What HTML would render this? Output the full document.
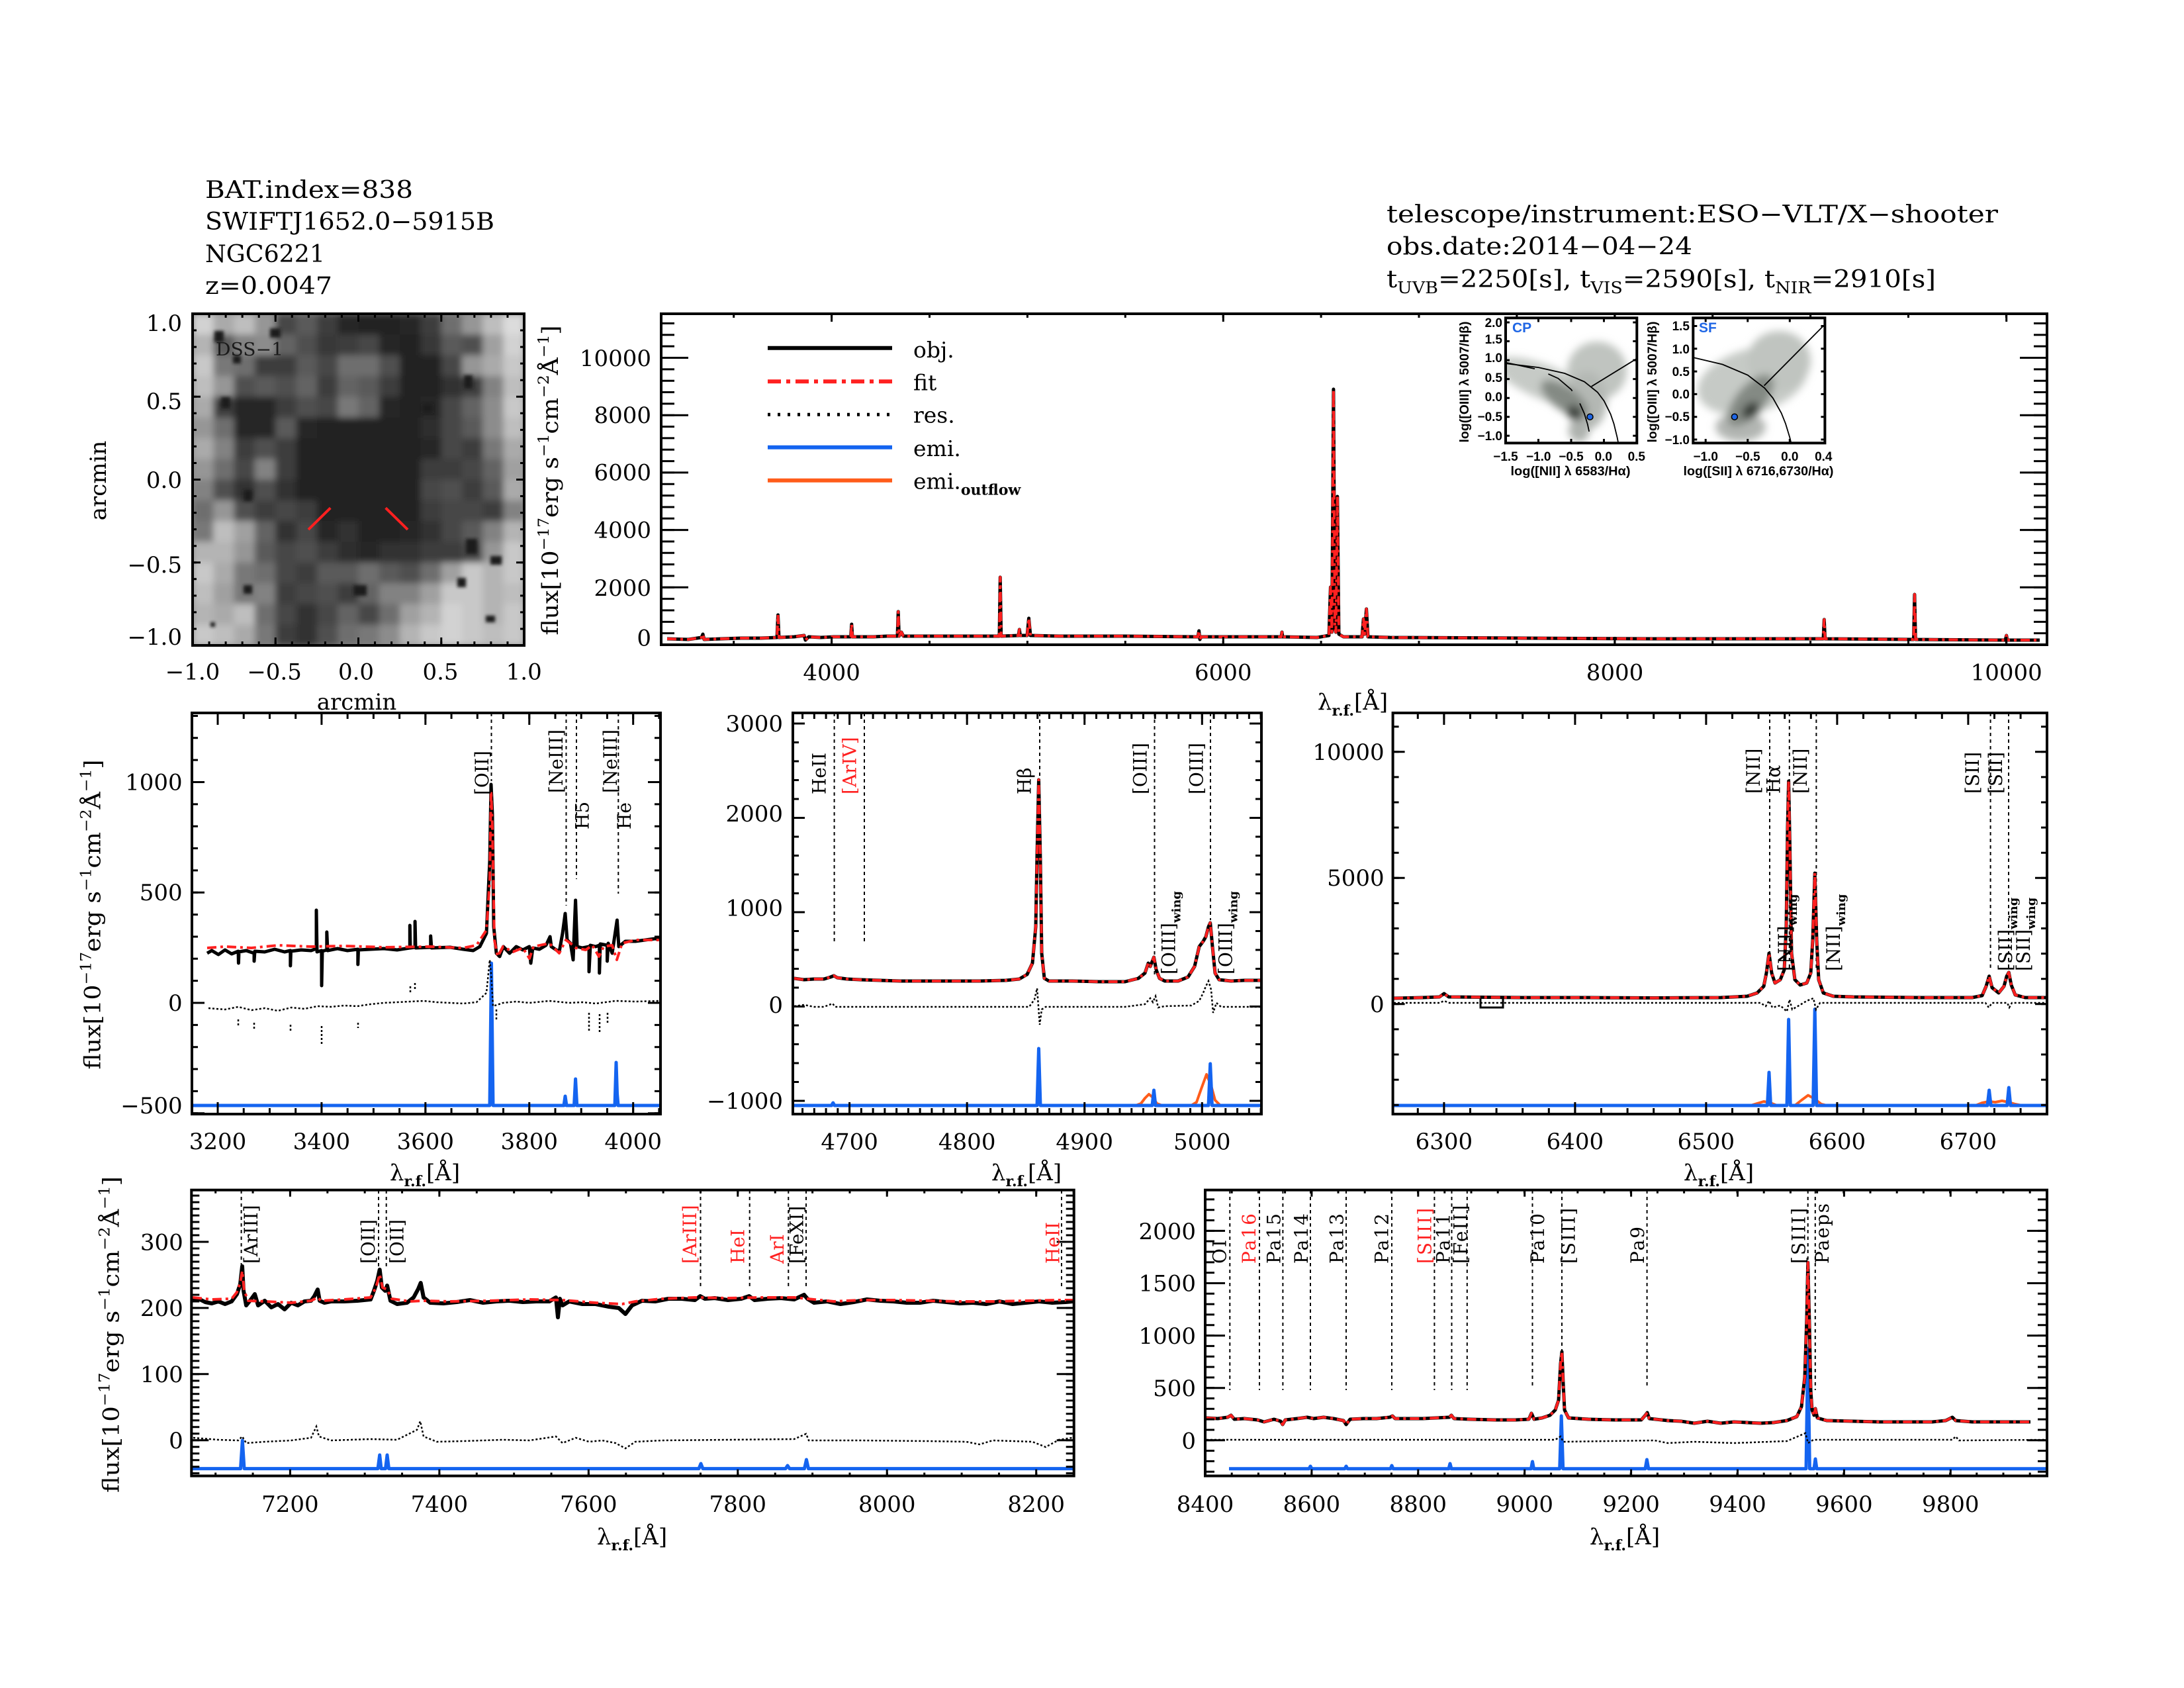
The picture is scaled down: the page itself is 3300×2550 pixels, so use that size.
<!DOCTYPE html>
<html><head><meta charset="utf-8"><style>
html,body{margin:0;padding:0;background:#fff;}
svg{display:block;}
text{font-family:"DejaVu Serif","Liberation Serif",serif;fill:#000;}
.s text,text.s{font-family:"Liberation Sans","DejaVu Sans",sans-serif;font-weight:bold;}
.k{fill:none;stroke:#000;}
.dl{fill:none;stroke:#000;stroke-width:2;stroke-dasharray:5 5;}
.obj{fill:none;stroke:#000;stroke-width:5;stroke-linejoin:round;}
.fit{fill:none;stroke:#ff2020;stroke-width:4;stroke-dasharray:14 6 4 6;stroke-linejoin:round;}
.res{fill:none;stroke:#000;stroke-width:2.5;stroke-dasharray:3 3;}
.blu{fill:none;stroke:#1464f0;stroke-width:5;stroke-linejoin:round;}
.org{fill:none;stroke:#ff5c1a;stroke-width:4;stroke-linejoin:round;}
</style></head><body>
<svg xmlns="http://www.w3.org/2000/svg" width="3300" height="2550" viewBox="0 0 3300 2550">
<defs>
<clipPath id="dssc"><rect x="291" y="474" width="501" height="501"/></clipPath>
<clipPath id="in1"><rect x="2275" y="480.3" width="198.3" height="189"/></clipPath>
<clipPath id="in2"><rect x="2558.3" y="480.3" width="199.1" height="189"/></clipPath>
<filter id="bl" filterUnits="userSpaceOnUse" x="240" y="420" width="600" height="610"><feGaussianBlur stdDeviation="5"/></filter>
<filter id="bl2" filterUnits="userSpaceOnUse" x="240" y="420" width="600" height="610"><feGaussianBlur stdDeviation="2.5"/></filter>
<filter id="ib" filterUnits="userSpaceOnUse" x="2200" y="440" width="620" height="260"><feGaussianBlur stdDeviation="6"/></filter>
<path id="ptop" d="M1008,965 L1040,966 L1060,963 L1062,958 L1064,966 L1090,965 L1120,964 L1150,964 L1174,963 L1175.5,929 L1177,963 L1200,962 L1215,960 L1217,967 L1222,962 L1240,963 L1260,962 L1285.5,962 L1286.8,943 L1288,962 L1320,962 L1340,961 L1356,961 L1357.2,924 L1358.5,961 L1362,955 L1365,961 L1400,961 L1450,961 L1510,961 L1511.3,872 L1512.7,961 L1539,960 L1540.3,951 L1541.5,960 L1552,960 L1554.5,934 L1557,960 L1600,961 L1700,961 L1810,962 L1811.6,953 L1813,966 L1815,962 L1936,962 L1937,955 L1938,962 L1990,963 L2008,960 L2010.4,887 L2012.5,955 L2014.9,588 L2017,950 L2018.5,955 L2020.8,750 L2023,958 L2030,962 L2058,962 L2060.2,935 L2062,958 L2064.6,920 L2067,962 L2100,963 L2300,964 L2500,965 L2755,965 L2756.3,936 L2757.6,965 L2891.5,966 L2892.9,898 L2894.3,966 L3030,967 L3031.7,960 L3033,967 L3082,967"/>
<path id="pmc" d="M1200,1478 L1215,1480 L1230,1479 L1245,1479 L1255,1476 L1260,1474 L1265,1477 L1280,1479 L1300,1480 L1330,1481 L1360,1482 L1400,1482 L1440,1482 L1480,1482 L1520,1481 L1540,1479 L1552,1472 L1560,1455 L1565,1400 L1567,1290 L1569.5,1178 L1572,1300 L1574,1440 L1578,1478 L1585,1482 L1620,1482 L1660,1483 L1700,1483 L1720,1478 L1730,1470 L1735,1455 L1738,1460 L1743.5,1446 L1747,1465 L1752,1478 L1760,1482 L1780,1482 L1795,1476 L1805,1460 L1812,1430 L1818,1422 L1822,1415 L1826,1400 L1828.7,1394 L1832,1430 L1836,1470 L1842,1480 L1860,1482 L1880,1481 L1904,1481"/>
<path id="pmr" d="M2106,1508 L2150,1507 L2175,1506 L2182,1501 L2189,1506 L2300,1507 L2400,1507 L2500,1507.5 L2600,1507 L2640,1505 L2655,1500 L2665,1490 L2669,1470 L2673,1440 L2677,1470 L2682,1485 L2690,1480 L2696,1465 L2699,1400 L2701,1250 L2702.6,1180 L2704.5,1280 L2707,1440 L2712,1480 L2720,1488 L2730,1485 L2736,1470 L2739,1420 L2742.2,1319 L2745,1420 L2748,1480 L2755,1500 L2770,1505 L2800,1506 L2900,1507 L2980,1507 L2995,1504 L3001,1490 L3005.6,1474.7 L3010,1492 L3020,1500 L3028,1490 L3032,1475 L3035.3,1469 L3039,1488 L3045,1503 L3060,1507 L3091,1507"/>
<path id="pbr" d="M1823,2142 L1840,2143 L1855,2141 L1860,2138 L1865,2144 L1880,2143 L1900,2145 L1910,2148 L1925,2144 L1935,2147 L1938,2152 L1942,2145 L1960,2143 L1975,2141 L1985,2143 L2000,2141 L2015,2143 L2030,2146 L2034,2152 L2040,2144 L2060,2143 L2080,2143 L2100,2141 L2104,2139 L2108,2143 L2130,2143 L2150,2143 L2170,2142 L2190,2141 L2193,2138 L2197,2143 L2220,2144 L2260,2145 L2290,2145 L2310,2144 L2314,2135 L2318,2144 L2330,2142 L2342,2138 L2350,2130 L2355,2115 L2358,2060 L2360,2042 L2362,2090 L2364,2130 L2370,2142 L2400,2144 L2440,2145 L2480,2145 L2486,2138 L2489,2134 L2492,2143 L2520,2146 L2540,2147 L2560,2150 L2580,2147 L2600,2150 L2620,2148 L2640,2149 L2660,2150 L2680,2149 L2700,2146 L2715,2140 L2722,2125 L2727,2080 L2730,1990 L2731.7,1907 L2734,2000 L2736,2100 L2738,2130 L2741,2138 L2743,2128 L2746,2142 L2760,2146 L2800,2147 L2840,2148 L2880,2148 L2920,2148 L2940,2146 L2950,2141 L2955,2146 L2980,2148 L3020,2148 L3068,2148"/>
</defs>
<rect width="3300" height="2550" fill="#fff"/>

<!-- HEADERS -->
<text x="310" y="299" font-size="36" textLength="314" lengthAdjust="spacingAndGlyphs">BAT.index=838</text>
<text x="310" y="347" font-size="36" textLength="437" lengthAdjust="spacingAndGlyphs">SWIFTJ1652.0−5915B</text>
<text x="310" y="396" font-size="36" textLength="181" lengthAdjust="spacingAndGlyphs">NGC6221</text>
<text x="310" y="444" font-size="36" textLength="192" lengthAdjust="spacingAndGlyphs">z=0.0047</text>
<text x="2095" y="336" font-size="36" textLength="924" lengthAdjust="spacingAndGlyphs">telescope/instrument:ESO−VLT/X−shooter</text>
<text x="2095" y="384.5" font-size="36" textLength="462" lengthAdjust="spacingAndGlyphs">obs.date:2014−04−24</text>
<text x="2095" y="434" font-size="36" textLength="830" lengthAdjust="spacingAndGlyphs">t<tspan font-size="24" dy="9">UVB</tspan><tspan dy="-9">=2250[s], t</tspan><tspan font-size="24" dy="9">VIS</tspan><tspan dy="-9">=2590[s], t</tspan><tspan font-size="24" dy="9">NIR</tspan><tspan dy="-9">=2910[s]</tspan></text>

<!-- DSS IMAGE -->
<g clip-path="url(#dssc)">
<rect x="291" y="474" width="501" height="501" fill="#888"/>
<g filter="url(#bl)">
<g transform="translate(0,474)"><rect x="291" width="32" height="32" fill="#d2d2d2"/><rect x="322.3" width="32" height="32" fill="#aaaaaa"/><rect x="353.6" width="32" height="32" fill="#bebebe"/><rect x="384.9" width="32" height="32" fill="#969696"/><rect x="416.2" width="32" height="32" fill="#464646"/><rect x="447.6" width="32" height="32" fill="#5a5a5a"/><rect x="478.9" width="32" height="32" fill="#3c3c3c"/><rect x="510.2" width="32" height="32" fill="#282828"/><rect x="541.5" width="32" height="32" fill="#222222"/><rect x="572.8" width="32" height="32" fill="#222222"/><rect x="604.1" width="32" height="32" fill="#282828"/><rect x="635.4" width="32" height="32" fill="#3c3c3c"/><rect x="666.7" width="32" height="32" fill="#6e6e6e"/><rect x="698" width="32" height="32" fill="#969696"/><rect x="729.3" width="32" height="32" fill="#bebebe"/><rect x="760.7" width="32" height="32" fill="#dcdcdc"/></g>
<g transform="translate(0,505.3)"><rect x="291" width="32" height="32" fill="#b4b4b4"/><rect x="322.3" width="32" height="32" fill="#5a5a5a"/><rect x="353.6" width="32" height="32" fill="#828282"/><rect x="384.9" width="32" height="32" fill="#8c8c8c"/><rect x="416.2" width="32" height="32" fill="#646464"/><rect x="447.6" width="32" height="32" fill="#505050"/><rect x="478.9" width="32" height="32" fill="#373737"/><rect x="510.2" width="32" height="32" fill="#3c3c3c"/><rect x="541.5" width="32" height="32" fill="#464646"/><rect x="572.8" width="32" height="32" fill="#282828"/><rect x="604.1" width="32" height="32" fill="#222222"/><rect x="635.4" width="32" height="32" fill="#373737"/><rect x="666.7" width="32" height="32" fill="#5a5a5a"/><rect x="698" width="32" height="32" fill="#505050"/><rect x="729.3" width="32" height="32" fill="#a0a0a0"/><rect x="760.7" width="32" height="32" fill="#d2d2d2"/></g>
<g transform="translate(0,536.6)"><rect x="291" width="32" height="32" fill="#c8c8c8"/><rect x="322.3" width="32" height="32" fill="#787878"/><rect x="353.6" width="32" height="32" fill="#6e6e6e"/><rect x="384.9" width="32" height="32" fill="#3c3c3c"/><rect x="416.2" width="32" height="32" fill="#3c3c3c"/><rect x="447.6" width="32" height="32" fill="#5a5a5a"/><rect x="478.9" width="32" height="32" fill="#464646"/><rect x="510.2" width="32" height="32" fill="#6e6e6e"/><rect x="541.5" width="32" height="32" fill="#6e6e6e"/><rect x="572.8" width="32" height="32" fill="#505050"/><rect x="604.1" width="32" height="32" fill="#222222"/><rect x="635.4" width="32" height="32" fill="#222222"/><rect x="666.7" width="32" height="32" fill="#464646"/><rect x="698" width="32" height="32" fill="#969696"/><rect x="729.3" width="32" height="32" fill="#aaaaaa"/><rect x="760.7" width="32" height="32" fill="#c8c8c8"/></g>
<g transform="translate(0,567.9)"><rect x="291" width="32" height="32" fill="#bebebe"/><rect x="322.3" width="32" height="32" fill="#969696"/><rect x="353.6" width="32" height="32" fill="#505050"/><rect x="384.9" width="32" height="32" fill="#5a5a5a"/><rect x="416.2" width="32" height="32" fill="#505050"/><rect x="447.6" width="32" height="32" fill="#646464"/><rect x="478.9" width="32" height="32" fill="#3c3c3c"/><rect x="510.2" width="32" height="32" fill="#646464"/><rect x="541.5" width="32" height="32" fill="#5a5a5a"/><rect x="572.8" width="32" height="32" fill="#3c3c3c"/><rect x="604.1" width="32" height="32" fill="#222222"/><rect x="635.4" width="32" height="32" fill="#222222"/><rect x="666.7" width="32" height="32" fill="#323232"/><rect x="698" width="32" height="32" fill="#3c3c3c"/><rect x="729.3" width="32" height="32" fill="#828282"/><rect x="760.7" width="32" height="32" fill="#bebebe"/></g>
<g transform="translate(0,599.2)"><rect x="291" width="32" height="32" fill="#aaaaaa"/><rect x="322.3" width="32" height="32" fill="#3c3c3c"/><rect x="353.6" width="32" height="32" fill="#282828"/><rect x="384.9" width="32" height="32" fill="#282828"/><rect x="416.2" width="32" height="32" fill="#3c3c3c"/><rect x="447.6" width="32" height="32" fill="#505050"/><rect x="478.9" width="32" height="32" fill="#464646"/><rect x="510.2" width="32" height="32" fill="#787878"/><rect x="541.5" width="32" height="32" fill="#646464"/><rect x="572.8" width="32" height="32" fill="#282828"/><rect x="604.1" width="32" height="32" fill="#222222"/><rect x="635.4" width="32" height="32" fill="#282828"/><rect x="666.7" width="32" height="32" fill="#464646"/><rect x="698" width="32" height="32" fill="#646464"/><rect x="729.3" width="32" height="32" fill="#8c8c8c"/><rect x="760.7" width="32" height="32" fill="#c8c8c8"/></g>
<g transform="translate(0,630.6)"><rect x="291" width="32" height="32" fill="#969696"/><rect x="322.3" width="32" height="32" fill="#6e6e6e"/><rect x="353.6" width="32" height="32" fill="#282828"/><rect x="384.9" width="32" height="32" fill="#282828"/><rect x="416.2" width="32" height="32" fill="#5a5a5a"/><rect x="447.6" width="32" height="32" fill="#282828"/><rect x="478.9" width="32" height="32" fill="#222222"/><rect x="510.2" width="32" height="32" fill="#222222"/><rect x="541.5" width="32" height="32" fill="#222222"/><rect x="572.8" width="32" height="32" fill="#222222"/><rect x="604.1" width="32" height="32" fill="#222222"/><rect x="635.4" width="32" height="32" fill="#2d2d2d"/><rect x="666.7" width="32" height="32" fill="#464646"/><rect x="698" width="32" height="32" fill="#5a5a5a"/><rect x="729.3" width="32" height="32" fill="#8c8c8c"/><rect x="760.7" width="32" height="32" fill="#bebebe"/></g>
<g transform="translate(0,661.9)"><rect x="291" width="32" height="32" fill="#aaaaaa"/><rect x="322.3" width="32" height="32" fill="#828282"/><rect x="353.6" width="32" height="32" fill="#3c3c3c"/><rect x="384.9" width="32" height="32" fill="#505050"/><rect x="416.2" width="32" height="32" fill="#3c3c3c"/><rect x="447.6" width="32" height="32" fill="#222222"/><rect x="478.9" width="32" height="32" fill="#222222"/><rect x="510.2" width="32" height="32" fill="#222222"/><rect x="541.5" width="32" height="32" fill="#222222"/><rect x="572.8" width="32" height="32" fill="#222222"/><rect x="604.1" width="32" height="32" fill="#222222"/><rect x="635.4" width="32" height="32" fill="#282828"/><rect x="666.7" width="32" height="32" fill="#464646"/><rect x="698" width="32" height="32" fill="#3c3c3c"/><rect x="729.3" width="32" height="32" fill="#787878"/><rect x="760.7" width="32" height="32" fill="#aaaaaa"/></g>
<g transform="translate(0,693.2)"><rect x="291" width="32" height="32" fill="#969696"/><rect x="322.3" width="32" height="32" fill="#6e6e6e"/><rect x="353.6" width="32" height="32" fill="#464646"/><rect x="384.9" width="32" height="32" fill="#828282"/><rect x="416.2" width="32" height="32" fill="#3c3c3c"/><rect x="447.6" width="32" height="32" fill="#222222"/><rect x="478.9" width="32" height="32" fill="#222222"/><rect x="510.2" width="32" height="32" fill="#222222"/><rect x="541.5" width="32" height="32" fill="#222222"/><rect x="572.8" width="32" height="32" fill="#222222"/><rect x="604.1" width="32" height="32" fill="#222222"/><rect x="635.4" width="32" height="32" fill="#3c3c3c"/><rect x="666.7" width="32" height="32" fill="#3c3c3c"/><rect x="698" width="32" height="32" fill="#464646"/><rect x="729.3" width="32" height="32" fill="#646464"/><rect x="760.7" width="32" height="32" fill="#a0a0a0"/></g>
<g transform="translate(0,724.5)"><rect x="291" width="32" height="32" fill="#828282"/><rect x="322.3" width="32" height="32" fill="#505050"/><rect x="353.6" width="32" height="32" fill="#323232"/><rect x="384.9" width="32" height="32" fill="#505050"/><rect x="416.2" width="32" height="32" fill="#323232"/><rect x="447.6" width="32" height="32" fill="#222222"/><rect x="478.9" width="32" height="32" fill="#222222"/><rect x="510.2" width="32" height="32" fill="#222222"/><rect x="541.5" width="32" height="32" fill="#222222"/><rect x="572.8" width="32" height="32" fill="#222222"/><rect x="604.1" width="32" height="32" fill="#222222"/><rect x="635.4" width="32" height="32" fill="#464646"/><rect x="666.7" width="32" height="32" fill="#505050"/><rect x="698" width="32" height="32" fill="#3c3c3c"/><rect x="729.3" width="32" height="32" fill="#5a5a5a"/><rect x="760.7" width="32" height="32" fill="#aaaaaa"/></g>
<g transform="translate(0,755.8)"><rect x="291" width="32" height="32" fill="#6e6e6e"/><rect x="322.3" width="32" height="32" fill="#969696"/><rect x="353.6" width="32" height="32" fill="#505050"/><rect x="384.9" width="32" height="32" fill="#3c3c3c"/><rect x="416.2" width="32" height="32" fill="#464646"/><rect x="447.6" width="32" height="32" fill="#3c3c3c"/><rect x="478.9" width="32" height="32" fill="#222222"/><rect x="510.2" width="32" height="32" fill="#222222"/><rect x="541.5" width="32" height="32" fill="#222222"/><rect x="572.8" width="32" height="32" fill="#222222"/><rect x="604.1" width="32" height="32" fill="#222222"/><rect x="635.4" width="32" height="32" fill="#3c3c3c"/><rect x="666.7" width="32" height="32" fill="#464646"/><rect x="698" width="32" height="32" fill="#464646"/><rect x="729.3" width="32" height="32" fill="#3c3c3c"/><rect x="760.7" width="32" height="32" fill="#828282"/></g>
<g transform="translate(0,787.1)"><rect x="291" width="32" height="32" fill="#787878"/><rect x="322.3" width="32" height="32" fill="#bebebe"/><rect x="353.6" width="32" height="32" fill="#a0a0a0"/><rect x="384.9" width="32" height="32" fill="#646464"/><rect x="416.2" width="32" height="32" fill="#323232"/><rect x="447.6" width="32" height="32" fill="#464646"/><rect x="478.9" width="32" height="32" fill="#282828"/><rect x="510.2" width="32" height="32" fill="#323232"/><rect x="541.5" width="32" height="32" fill="#222222"/><rect x="572.8" width="32" height="32" fill="#222222"/><rect x="604.1" width="32" height="32" fill="#282828"/><rect x="635.4" width="32" height="32" fill="#323232"/><rect x="666.7" width="32" height="32" fill="#464646"/><rect x="698" width="32" height="32" fill="#5a5a5a"/><rect x="729.3" width="32" height="32" fill="#828282"/><rect x="760.7" width="32" height="32" fill="#b4b4b4"/></g>
<g transform="translate(0,818.4)"><rect x="291" width="32" height="32" fill="#b4b4b4"/><rect x="322.3" width="32" height="32" fill="#b4b4b4"/><rect x="353.6" width="32" height="32" fill="#969696"/><rect x="384.9" width="32" height="32" fill="#5a5a5a"/><rect x="416.2" width="32" height="32" fill="#464646"/><rect x="447.6" width="32" height="32" fill="#505050"/><rect x="478.9" width="32" height="32" fill="#3c3c3c"/><rect x="510.2" width="32" height="32" fill="#2d2d2d"/><rect x="541.5" width="32" height="32" fill="#282828"/><rect x="572.8" width="32" height="32" fill="#323232"/><rect x="604.1" width="32" height="32" fill="#323232"/><rect x="635.4" width="32" height="32" fill="#3c3c3c"/><rect x="666.7" width="32" height="32" fill="#3c3c3c"/><rect x="698" width="32" height="32" fill="#464646"/><rect x="729.3" width="32" height="32" fill="#969696"/><rect x="760.7" width="32" height="32" fill="#c8c8c8"/></g>
<g transform="translate(0,849.7)"><rect x="291" width="32" height="32" fill="#c8c8c8"/><rect x="322.3" width="32" height="32" fill="#aaaaaa"/><rect x="353.6" width="32" height="32" fill="#787878"/><rect x="384.9" width="32" height="32" fill="#6e6e6e"/><rect x="416.2" width="32" height="32" fill="#464646"/><rect x="447.6" width="32" height="32" fill="#3c3c3c"/><rect x="478.9" width="32" height="32" fill="#5a5a5a"/><rect x="510.2" width="32" height="32" fill="#5a5a5a"/><rect x="541.5" width="32" height="32" fill="#6e6e6e"/><rect x="572.8" width="32" height="32" fill="#5a5a5a"/><rect x="604.1" width="32" height="32" fill="#505050"/><rect x="635.4" width="32" height="32" fill="#6e6e6e"/><rect x="666.7" width="32" height="32" fill="#a0a0a0"/><rect x="698" width="32" height="32" fill="#c8c8c8"/><rect x="729.3" width="32" height="32" fill="#b4b4b4"/><rect x="760.7" width="32" height="32" fill="#c8c8c8"/></g>
<g transform="translate(0,881)"><rect x="291" width="32" height="32" fill="#bebebe"/><rect x="322.3" width="32" height="32" fill="#a0a0a0"/><rect x="353.6" width="32" height="32" fill="#787878"/><rect x="384.9" width="32" height="32" fill="#828282"/><rect x="416.2" width="32" height="32" fill="#3c3c3c"/><rect x="447.6" width="32" height="32" fill="#464646"/><rect x="478.9" width="32" height="32" fill="#505050"/><rect x="510.2" width="32" height="32" fill="#3c3c3c"/><rect x="541.5" width="32" height="32" fill="#646464"/><rect x="572.8" width="32" height="32" fill="#828282"/><rect x="604.1" width="32" height="32" fill="#828282"/><rect x="635.4" width="32" height="32" fill="#a0a0a0"/><rect x="666.7" width="32" height="32" fill="#c8c8c8"/><rect x="698" width="32" height="32" fill="#c8c8c8"/><rect x="729.3" width="32" height="32" fill="#b4b4b4"/><rect x="760.7" width="32" height="32" fill="#bebebe"/></g>
<g transform="translate(0,912.3)"><rect x="291" width="32" height="32" fill="#b4b4b4"/><rect x="322.3" width="32" height="32" fill="#aaaaaa"/><rect x="353.6" width="32" height="32" fill="#bebebe"/><rect x="384.9" width="32" height="32" fill="#6e6e6e"/><rect x="416.2" width="32" height="32" fill="#464646"/><rect x="447.6" width="32" height="32" fill="#323232"/><rect x="478.9" width="32" height="32" fill="#464646"/><rect x="510.2" width="32" height="32" fill="#646464"/><rect x="541.5" width="32" height="32" fill="#464646"/><rect x="572.8" width="32" height="32" fill="#6e6e6e"/><rect x="604.1" width="32" height="32" fill="#a0a0a0"/><rect x="635.4" width="32" height="32" fill="#b4b4b4"/><rect x="666.7" width="32" height="32" fill="#d2d2d2"/><rect x="698" width="32" height="32" fill="#c8c8c8"/><rect x="729.3" width="32" height="32" fill="#b4b4b4"/><rect x="760.7" width="32" height="32" fill="#c8c8c8"/></g>
<g transform="translate(0,943.7)"><rect x="291" width="32" height="32" fill="#c8c8c8"/><rect x="322.3" width="32" height="32" fill="#bebebe"/><rect x="353.6" width="32" height="32" fill="#aaaaaa"/><rect x="384.9" width="32" height="32" fill="#787878"/><rect x="416.2" width="32" height="32" fill="#3c3c3c"/><rect x="447.6" width="32" height="32" fill="#323232"/><rect x="478.9" width="32" height="32" fill="#505050"/><rect x="510.2" width="32" height="32" fill="#6e6e6e"/><rect x="541.5" width="32" height="32" fill="#787878"/><rect x="572.8" width="32" height="32" fill="#8c8c8c"/><rect x="604.1" width="32" height="32" fill="#b4b4b4"/><rect x="635.4" width="32" height="32" fill="#c8c8c8"/><rect x="666.7" width="32" height="32" fill="#d2d2d2"/><rect x="698" width="32" height="32" fill="#c8c8c8"/><rect x="729.3" width="32" height="32" fill="#bebebe"/><rect x="760.7" width="32" height="32" fill="#c8c8c8"/></g>
</g>
<g fill="#1e1e1e" filter="url(#bl2)">
<rect x="324" y="500" width="14" height="17"/><rect x="334" y="600" width="14" height="17"/><rect x="368" y="740" width="13" height="17"/><rect x="368" y="884" width="13" height="13"/><rect x="534" y="884" width="20" height="16"/><rect x="741" y="840" width="17" height="13"/><rect x="704" y="814" width="17" height="23"/><rect x="691" y="873" width="13" height="14"/><rect x="734" y="930" width="14" height="10"/><rect x="318" y="940" width="7" height="7"/><rect x="701" y="567" width="13" height="20"/><rect x="638" y="610" width="16" height="14"/><rect x="408" y="496" width="16" height="14"/><rect x="352" y="537" width="12" height="12"/>
</g>
</g>
<line x1="466" y1="800" x2="499.3" y2="767.3" stroke="#ff2020" stroke-width="4"/>
<line x1="582.7" y1="767.3" x2="616" y2="800" stroke="#ff2020" stroke-width="4"/>
<text x="326" y="537" font-size="27" style="fill:#1a1a1a" textLength="102" lengthAdjust="spacingAndGlyphs">DSS−1</text>
<rect x="291" y="474" width="501" height="501" class="k" stroke-width="4"/>
<g stroke="#000" fill="none">
<line x1="289.5" y1="972" x2="793.5" y2="972" stroke-width="6" stroke-dasharray="3 22.05"/>
<line x1="289.5" y1="477" x2="793.5" y2="477" stroke-width="6" stroke-dasharray="3 22.05"/>
<line x1="289.5" y1="969" x2="793.5" y2="969" stroke-width="12" stroke-dasharray="3 122.25"/>
<line x1="289.5" y1="480" x2="793.5" y2="480" stroke-width="12" stroke-dasharray="3 122.25"/>
<line x1="294" y1="472.5" x2="294" y2="976.5" stroke-width="6" stroke-dasharray="3 22.05"/>
<line x1="789" y1="472.5" x2="789" y2="976.5" stroke-width="6" stroke-dasharray="3 22.05"/>
<line x1="297" y1="472.5" x2="297" y2="976.5" stroke-width="12" stroke-dasharray="3 122.25"/>
<line x1="786" y1="472.5" x2="786" y2="976.5" stroke-width="12" stroke-dasharray="3 122.25"/>
</g>
<g font-size="34" text-anchor="end">
<text x="275" y="500">1.0</text><text x="275" y="618">0.5</text><text x="275" y="737">0.0</text><text x="275" y="865">−0.5</text><text x="275" y="974">−1.0</text>
</g>
<g font-size="34" text-anchor="middle">
<text x="291" y="1026.5">−1.0</text><text x="414.6" y="1026.5">−0.5</text><text x="538" y="1026.5">0.0</text><text x="665.5" y="1026.5">0.5</text><text x="791.7" y="1026.5">1.0</text>
<text x="539" y="1072">arcmin</text>
<text transform="translate(160,726) rotate(-90)">arcmin</text>
</g>

<!-- TOP PANEL -->
<use href="#ptop" class="obj"/>
<use href="#ptop" class="fit"/>
<rect x="999" y="474" width="2094" height="500" class="k" stroke-width="4"/>
<g stroke="#000" fill="none">
<line x1="1009" y1="487" x2="1009" y2="976" stroke-width="20" stroke-dasharray="3 14.34"/>
<line x1="3083" y1="487" x2="3083" y2="976" stroke-width="20" stroke-dasharray="3 14.34"/>
<line x1="1019.5" y1="539" x2="1019.5" y2="976" stroke-width="41" stroke-dasharray="3 83.7"/>
<line x1="3072.5" y1="539" x2="3072.5" y2="976" stroke-width="41" stroke-dasharray="3 83.7"/>
<line x1="1107.2" y1="971" x2="3034" y2="971" stroke-width="6" stroke-dasharray="3 144.9"/>
<line x1="1107.2" y1="477" x2="3034" y2="477" stroke-width="6" stroke-dasharray="3 144.9"/>
<line x1="1255.1" y1="968" x2="3034" y2="968" stroke-width="12" stroke-dasharray="3 588.7"/>
<line x1="1255.1" y1="480" x2="3034" y2="480" stroke-width="12" stroke-dasharray="3 588.7"/>
</g>
<g font-size="34" text-anchor="end">
<text x="984" y="553">10000</text><text x="984" y="639">8000</text><text x="984" y="725.5">6000</text><text x="984" y="812.5">4000</text><text x="984" y="900">2000</text><text x="984" y="975.5">0</text>
</g>
<g font-size="34" text-anchor="middle">
<text x="1256.6" y="1027.5">4000</text><text x="1848.3" y="1027.5">6000</text><text x="2440" y="1027.5">8000</text><text x="3031.7" y="1027.5">10000</text>
<text x="2044" y="1072">λ<tspan font-size="22" font-weight="bold" dy="9">r.f.</tspan><tspan dy="-9">[Å]</tspan></text>
<text transform="translate(843,725.5) rotate(-90)" textLength="468" lengthAdjust="spacingAndGlyphs">flux[10<tspan font-size="22" dy="-14">−17</tspan><tspan dy="14">erg s</tspan><tspan font-size="22" dy="-14">−1</tspan><tspan dy="14">cm</tspan><tspan font-size="22" dy="-14">−2</tspan><tspan dy="14">Å</tspan><tspan font-size="22" dy="-14">−1</tspan><tspan dy="14">]</tspan></text>
</g>
<!-- legend -->
<line x1="1160" y1="525.7" x2="1348" y2="525.7" stroke="#000" stroke-width="6"/>
<line x1="1160" y1="576.2" x2="1348" y2="576.2" stroke="#ff2020" stroke-width="6" stroke-dasharray="20 8 6 8"/>
<line x1="1160" y1="626.2" x2="1348" y2="626.2" stroke="#000" stroke-width="5" stroke-dasharray="4 11"/>
<line x1="1160" y1="675.7" x2="1348" y2="675.7" stroke="#1464f0" stroke-width="6"/>
<line x1="1160" y1="725.7" x2="1348" y2="725.7" stroke="#ff5c1a" stroke-width="6"/>
<g font-size="33">
<text x="1380" y="540">obj.</text><text x="1380" y="589.5">fit</text><text x="1380" y="638.5">res.</text><text x="1380" y="689">emi.</text><text x="1380" y="738.5">emi.<tspan font-size="22" font-weight="bold" dy="9">outflow</tspan></text>
</g>

<!-- INSETS -->
<rect x="2275" y="480.3" width="198.3" height="189" fill="#fff"/>
<rect x="2558.3" y="480.3" width="199.1" height="189" fill="#fff"/>
<g clip-path="url(#in1)"><g filter="url(#ib)">
<ellipse cx="2335" cy="578" rx="80" ry="26" transform="rotate(22 2335 578)" fill="#c6cac6"/>
<ellipse cx="2413" cy="560" rx="45" ry="44" fill="#c0c4c0"/>
<ellipse cx="2398" cy="605" rx="30" ry="44" fill="#b4b8b4"/>
<ellipse cx="2386" cy="650" rx="16" ry="18" fill="#aeb2ae"/>
<ellipse cx="2364" cy="602" rx="42" ry="18" transform="rotate(35 2364 602)" fill="#848a84"/>
<ellipse cx="2379" cy="624" rx="13" ry="10" transform="rotate(40 2379 624)" fill="#3a403a"/>
</g></g>
<g clip-path="url(#in2)"><g filter="url(#ib)">
<ellipse cx="2648" cy="575" rx="85" ry="48" transform="rotate(-15 2648 575)" fill="#c6cac6"/>
<ellipse cx="2688" cy="545" rx="48" ry="45" fill="#c0c4c0"/>
<ellipse cx="2630" cy="645" rx="38" ry="22" fill="#b2b6b2"/>
<ellipse cx="2645" cy="605" rx="48" ry="22" transform="rotate(-50 2645 605)" fill="#848a84"/>
<ellipse cx="2645" cy="620" rx="15" ry="10" transform="rotate(-45 2645 620)" fill="#343a34"/>
</g></g>
<g fill="none" stroke="#000" stroke-width="1.8">
<polyline points="2275,549.1 2324.6,555.1 2364.2,564 2394,576.7 2413.8,592.5 2423.7,605.6 2433.6,625.6 2438.6,640.3 2443.5,660.4 2444.9,667.5"/>
<polyline points="2275,547.6 2324.6,558.3 2354.3,571.6 2374.1,588.5 2384,602.6 2393.9,624.7 2398.9,641.3 2403.8,664.5 2404.3,667.4" stroke-dasharray="45 22"/>
<line x1="2404.7" y1="583.8" x2="2473" y2="541.8"/>
<polyline points="2558.2,540 2602.7,550.5 2640.8,566.7 2666.2,586.1 2678.9,601.4 2691.6,624 2697.95,639.9 2704.3,660.8 2706.3,668.9"/>
<line x1="2665.6" y1="582.6" x2="2755.3" y2="492.1"/>
</g>
<circle cx="2402.5" cy="629.7" r="4.5" fill="#1f66e5" stroke="#000" stroke-width="1.5"/>
<circle cx="2620.9" cy="629.7" r="4.5" fill="#1f66e5" stroke="#000" stroke-width="1.5"/>
<rect x="2275" y="480.3" width="198.3" height="189" class="k" stroke-width="4"/>
<rect x="2558.3" y="480.3" width="199.1" height="189" class="k" stroke-width="4"/>
<g stroke="#000" fill="none">
<line x1="2278" y1="485.5" x2="2278" y2="669" stroke-width="6" stroke-dasharray="3 25.55"/>
<line x1="2470.3" y1="485.5" x2="2470.3" y2="669" stroke-width="6" stroke-dasharray="3 25.55"/>
<line x1="2273.5" y1="666" x2="2475" y2="666" stroke-width="6" stroke-dasharray="3 46.5"/>
<line x1="2273.5" y1="483.5" x2="2475" y2="483.5" stroke-width="6" stroke-dasharray="3 46.5"/>
<line x1="2561.3" y1="491" x2="2561.3" y2="669" stroke-width="6" stroke-dasharray="3 31.3"/>
<line x1="2754.4" y1="491" x2="2754.4" y2="669" stroke-width="6" stroke-dasharray="3 31.3"/>
<line x1="2575.7" y1="666" x2="2757" y2="666" stroke-width="6" stroke-dasharray="3 60.55"/>
<line x1="2575.7" y1="483.5" x2="2757" y2="483.5" stroke-width="6" stroke-dasharray="3 60.55"/>
</g>
<g class="s" font-size="19">
<text x="2285" y="502" style="fill:#1f66e5" font-size="21">CP</text>
<text x="2567" y="502" style="fill:#1f66e5" font-size="21">SF</text>
<g text-anchor="end">
<text x="2270" y="494">2.0</text><text x="2270" y="519">1.5</text><text x="2270" y="547">1.0</text><text x="2270" y="577">0.5</text><text x="2270" y="606">0.0</text><text x="2270" y="636">−0.5</text><text x="2270" y="665">−1.0</text>
<text x="2553" y="499">1.5</text><text x="2553" y="534">1.0</text><text x="2553" y="568">0.5</text><text x="2553" y="602">0.0</text><text x="2553" y="636">−0.5</text><text x="2553" y="671">−1.0</text>
</g>
<g text-anchor="middle">
<text x="2275" y="696">−1.5</text><text x="2324.7" y="696">−1.0</text><text x="2374" y="696">−0.5</text><text x="2422.8" y="696">0.0</text><text x="2472.8" y="696">0.5</text>
<text x="2577.2" y="696">−1.0</text><text x="2640.8" y="696">−0.5</text><text x="2704.3" y="696">0.0</text><text x="2755.3" y="696">0.4</text>
<text x="2373" y="718" textLength="181" lengthAdjust="spacingAndGlyphs">log([NII] λ 6583/Hα)</text>
<text x="2657" y="718" textLength="227" lengthAdjust="spacingAndGlyphs">log([SII] λ 6716,6730/Hα)</text>
<text transform="translate(2219,577) rotate(-90)" textLength="183" lengthAdjust="spacingAndGlyphs">log([OIII] λ 5007/Hβ)</text>
<text transform="translate(2503,577) rotate(-90)" textLength="183" lengthAdjust="spacingAndGlyphs">log([OIII] λ 5007/Hβ)</text>
</g>
</g>

<!-- MIDDLE LEFT -->
<path class="dl" d="M742.5,1077 V1180 M855.5,1077 V1368 M871,1077 V1328 M934.3,1077 V1350"/>
<path class="blu" d="M292,1670 L740,1670 L742.5,1455 L745,1670 L852,1670 L854,1656 L856,1670 L867.5,1670 L869.6,1630 L871.7,1670 L929,1670 L931,1605 L932.5,1652 L934,1670 L996,1670"/>
<path class="res" d="M315,1523 L340,1525 L360,1521 L380,1526 L400,1523 L420,1527 L440,1522 L460,1524 L480,1520 L500,1521 L520,1519 L540,1520 L560,1517 L580,1515 L600,1514 L620,1513 L640,1512 L660,1514 L680,1515 L700,1516 L720,1514 L735,1500 L740,1450 L742,1470 L745,1520 L760,1515 L780,1513 L800,1515 L830,1512 L860,1515 L880,1514 L900,1516 L930,1512 L960,1513 L996,1512"/>
<path class="res" d="M360,1540 V1550 M384,1545 V1555 M439,1548 V1560 M486,1550 V1580 M541,1545 V1553 M620,1490 V1500 M627,1485 V1495 M890,1530 V1560 M906,1532 V1562 M918,1530 V1545 M750,1525 V1540"/>
<path class="obj" d="M313,1440 L320,1436 L330,1442 L340,1435 L350,1441 L360,1437 L360.4,1455 L361,1438 L372,1436 L384,1440 L384,1452 L385,1437 L400,1438 L415,1434 L430,1438 L438.8,1436 L438.8,1459 L439.5,1437 L455,1435 L470,1436 L478,1433 L478,1375 L479,1438 L485.9,1436 L486,1489 L487,1437 L493.8,1435 L493.8,1408 L495,1436 L510,1433 L525,1436 L540.8,1434 L540.8,1457 L541.5,1435 L560,1434 L580,1433 L600,1435 L619.3,1432 L619.3,1398 L620,1432 L627.1,1431 L627.1,1392 L628,1432 L650.7,1431 L650.7,1414 L652,1432 L680,1431 L700,1434 L715,1436 L725,1430 L735,1410 L740,1300 L742,1185 L744,1230 L746,1400 L750,1440 L755,1445 L760.5,1430 L770,1440 L780,1430 L790,1435 L799.8,1430 L802,1455 L805,1432 L815,1434 L825,1428 L831.1,1415 L833,1430 L845,1438 L850,1410 L854,1380 L857,1420 L862,1425 L866,1450 L869.6,1360 L872,1430 L880,1432 L890,1430 L890,1468 L892,1428 L900,1430 L905.7,1428 L905.7,1470 L907,1426 L917.5,1428 L917.5,1452 L919,1425 L925,1440 L932.4,1390 L935,1430 L945,1422 L960,1422 L975,1420 L990,1418 L996,1419"/>
<path class="fit" d="M313,1432 L340,1430 L380,1432 L420,1428 L470,1430 L520,1429 L580,1431 L650,1430 L700,1432 L720,1428 L735,1405 L740,1330 L742,1195 L744,1250 L747,1420 L752,1445 L760,1430 L775,1438 L790,1432 L800,1448 L806,1430 L830,1425 L845,1440 L855,1420 L862,1425 L870,1432 L885,1435 L895,1428 L905,1445 L912,1430 L925,1428 L932,1450 L940,1425 L960,1420 L996,1420"/>
<rect x="290" y="1077" width="708" height="606" class="k" stroke-width="4"/>
<g stroke="#000" fill="none">
<line x1="294.5" y1="1079.95" x2="294.5" y2="1684" stroke-width="9" stroke-dasharray="3 30.35"/>
<line x1="993.5" y1="1079.95" x2="993.5" y2="1684" stroke-width="9" stroke-dasharray="3 30.35"/>
<line x1="299.5" y1="1180" x2="299.5" y2="1684" stroke-width="19" stroke-dasharray="3 163.75"/>
<line x1="988.5" y1="1180" x2="988.5" y2="1684" stroke-width="19" stroke-dasharray="3 163.75"/>
<line x1="327.5" y1="1678.5" x2="998" y2="1678.5" stroke-width="9" stroke-dasharray="3 36.23"/>
<line x1="327.5" y1="1081.5" x2="998" y2="1081.5" stroke-width="9" stroke-dasharray="3 36.23"/>
<line x1="327.5" y1="1674" x2="998" y2="1674" stroke-width="18" stroke-dasharray="3 153.92"/>
<line x1="327.5" y1="1086" x2="998" y2="1086" stroke-width="18" stroke-dasharray="3 153.92"/>
</g>
<g font-size="28">
<text transform="translate(738,1201) rotate(-90)">[OII]</text>
<text transform="translate(850,1198) rotate(-90)">[NeIII]</text>
<text transform="translate(889.5,1253) rotate(-90)">H5</text>
<text transform="translate(932,1198) rotate(-90)">[NeIII]</text>
<text transform="translate(953,1253) rotate(-90)">He</text>
</g>
<g font-size="34" text-anchor="end">
<text x="275.7" y="1193.5">1000</text><text x="275.7" y="1360">500</text><text x="275.7" y="1527">0</text><text x="275.7" y="1682">−500</text>
</g>
<g font-size="34" text-anchor="middle">
<text x="329" y="1736">3200</text><text x="485.9" y="1736">3400</text><text x="642.8" y="1736">3600</text><text x="799.8" y="1736">3800</text><text x="956.7" y="1736">4000</text>
<text x="642" y="1783">λ<tspan font-size="22" font-weight="bold" dy="9">r.f.</tspan><tspan dy="-9">[Å]</tspan></text>
<text transform="translate(151.5,1381.5) rotate(-90)" textLength="468" lengthAdjust="spacingAndGlyphs">flux[10<tspan font-size="22" dy="-14">−17</tspan><tspan dy="14">erg s</tspan><tspan font-size="22" dy="-14">−1</tspan><tspan dy="14">cm</tspan><tspan font-size="22" dy="-14">−2</tspan><tspan dy="14">Å</tspan><tspan font-size="22" dy="-14">−1</tspan><tspan dy="14">]</tspan></text>
</g>

<!-- MIDDLE CENTER -->
<path class="dl" d="M1260.6,1077 V1423 M1306,1077 V1426 M1571,1077 V1178 M1744.5,1077 V1475 M1829,1077 V1390"/>
<path class="org" d="M1716,1670 L1724,1667 L1730,1659 L1736,1653 L1742,1658 L1748,1667 L1756,1670 M1800,1670 L1808,1665 L1815,1645 L1823,1623 L1830,1640 L1836,1662 L1844,1670"/>
<path class="blu" d="M1200,1670 L1256.5,1670 L1258.7,1666 L1261,1670 L1567,1670 L1569.5,1584 L1572,1670 L1741,1670 L1743.5,1647 L1746,1670 L1826,1670 L1828.7,1607 L1831.4,1670 L1904,1670"/>
<path class="res" d="M1200,1520 L1215,1518 L1230,1521 L1245,1521 L1258,1516 L1262,1521 L1300,1521 L1400,1521 L1500,1521 L1555,1521 L1563,1510 L1567,1493 L1569,1520 L1571,1548 L1574,1525 L1580,1521 L1700,1521 L1730,1517 L1738,1508 L1742,1514 L1746,1505 L1750,1522 L1760,1520 L1800,1519 L1812,1512 L1818,1500 L1822,1490 L1826,1482 L1830,1495 L1833,1530 L1838,1515 L1845,1521 L1904,1521"/>
<use href="#pmc" class="obj"/>
<use href="#pmc" class="fit"/>
<rect x="1198" y="1077" width="708" height="606" class="k" stroke-width="4"/>
<g stroke="#000" fill="none">
<line x1="1202.5" y1="1091.5" x2="1202.5" y2="1684" stroke-width="9" stroke-dasharray="3 25.5"/>
<line x1="1901.5" y1="1091.5" x2="1901.5" y2="1684" stroke-width="9" stroke-dasharray="3 25.5"/>
<line x1="1207" y1="1091.5" x2="1207" y2="1684" stroke-width="18" stroke-dasharray="3 139.5"/>
<line x1="1897" y1="1091.5" x2="1897" y2="1684" stroke-width="18" stroke-dasharray="3 139.5"/>
<line x1="1211.07" y1="1678.5" x2="1906" y2="1678.5" stroke-width="9" stroke-dasharray="3 14.757"/>
<line x1="1211.07" y1="1081.5" x2="1906" y2="1081.5" stroke-width="9" stroke-dasharray="3 14.757"/>
<line x1="1282.1" y1="1674" x2="1906" y2="1674" stroke-width="18" stroke-dasharray="3 174.57"/>
<line x1="1282.1" y1="1086" x2="1906" y2="1086" stroke-width="18" stroke-dasharray="3 174.57"/>
</g>
<g font-size="28">
<text transform="translate(1247.5,1200) rotate(-90)">HeII</text>
<text transform="translate(1293.5,1200) rotate(-90)" style="fill:#ff2020">[ArIV]</text>
<text transform="translate(1557.5,1200) rotate(-90)">Hβ</text>
<text transform="translate(1732.6,1200) rotate(-90)">[OIII]</text>
<text transform="translate(1817.5,1200) rotate(-90)">[OIII]</text>
<text transform="translate(1775.6,1472) rotate(-90)">[OIII]<tspan font-size="18" font-weight="bold" dy="8">wing</tspan></text>
<text transform="translate(1861.7,1472) rotate(-90)">[OIII]<tspan font-size="18" font-weight="bold" dy="8">wing</tspan></text>
</g>
<g font-size="34" text-anchor="end">
<text x="1183" y="1105">3000</text><text x="1183" y="1241">2000</text><text x="1183" y="1383.5">1000</text><text x="1183" y="1530">0</text><text x="1183" y="1675">−1000</text>
</g>
<g font-size="34" text-anchor="middle">
<text x="1283.6" y="1736.5">4700</text><text x="1461.2" y="1736.5">4800</text><text x="1638.7" y="1736.5">4900</text><text x="1816.3" y="1736.5">5000</text>
<text x="1551" y="1783">λ<tspan font-size="22" font-weight="bold" dy="9">r.f.</tspan><tspan dy="-9">[Å]</tspan></text>
</g>

<!-- MIDDLE RIGHT -->
<path class="dl" d="M2674,1077 V1465 M2703.8,1077 V1465 M2744.4,1077 V1465 M3007.6,1077 V1465 M3035,1077 V1465"/>
<path class="org" d="M2645,1670 L2655,1667 L2665,1664 L2675,1666 L2685,1670 M2712,1670 L2722,1662 L2732,1654.6 L2742,1660 L2752,1668 L2760,1670 M2985,1670 L2995,1666 L3005,1664 L3015,1665 L3025,1663 L3035,1665 L3045,1668 L3055,1670"/>
<path class="blu" d="M2106,1670 L2670.5,1670 L2673,1620 L2675.5,1670 L2700,1670 L2702.6,1540 L2705.2,1670 L2739.6,1670 L2742.2,1524.5 L2744.8,1670 L3003,1670 L3005.6,1647 L3008.2,1670 L3032.7,1670 L3035.3,1643 L3037.9,1670 L3091,1670"/>
<path class="res" d="M2106,1515 L2175,1515 L2182,1512 L2190,1515 L2660,1515 L2668,1520 L2673,1512 L2678,1522 L2690,1519 L2700,1528 L2704,1510 L2708,1525 L2720,1518 L2730,1512 L2740,1508 L2744,1525 L2750,1515 L3000,1515 L3005,1522 L3010,1515 L3033,1515 L3036,1522 L3040,1515 L3091,1515"/>
<path d="M2237,1508 V1522 H2271 V1508" fill="none" stroke="#000" stroke-width="3"/>
<use href="#pmr" class="obj"/>
<use href="#pmr" class="fit"/>
<rect x="2104.6" y="1077" width="988.4" height="606" class="k" stroke-width="4"/>
<g stroke="#000" fill="none">
<line x1="2109.1" y1="1096.2" x2="2109.1" y2="1684" stroke-width="9" stroke-dasharray="3 35.1"/>
<line x1="3088.5" y1="1096.2" x2="3088.5" y2="1684" stroke-width="9" stroke-dasharray="3 35.1"/>
<line x1="2113.6" y1="1134.3" x2="2113.6" y2="1684" stroke-width="18" stroke-dasharray="3 187.5"/>
<line x1="3084" y1="1134.3" x2="3084" y2="1684" stroke-width="18" stroke-dasharray="3 187.5"/>
<line x1="2140.8" y1="1678.5" x2="3093" y2="1678.5" stroke-width="9" stroke-dasharray="3 36.6"/>
<line x1="2140.8" y1="1081.5" x2="3093" y2="1081.5" stroke-width="9" stroke-dasharray="3 36.6"/>
<line x1="2180.4" y1="1674" x2="3093" y2="1674" stroke-width="18" stroke-dasharray="3 195"/>
<line x1="2180.4" y1="1086" x2="3093" y2="1086" stroke-width="18" stroke-dasharray="3 195"/>
</g>
<g font-size="28">
<text transform="translate(2659,1199) rotate(-90)">[NII]</text>
<text transform="translate(2689.5,1199) rotate(-90)">Hα</text>
<text transform="translate(2730,1199) rotate(-90)">[NII]</text>
<text transform="translate(2990,1199) rotate(-90)">[SII]</text>
<text transform="translate(3024.8,1199) rotate(-90)">[SII]</text>
<text transform="translate(2707,1467) rotate(-90)">[NII]<tspan font-size="18" font-weight="bold" dy="8">wing</tspan></text>
<text transform="translate(2780,1467) rotate(-90)">[NII]<tspan font-size="18" font-weight="bold" dy="8">wing</tspan></text>
<text transform="translate(3040,1467) rotate(-90)">[SII]<tspan font-size="18" font-weight="bold" dy="8">wing</tspan></text>
<text transform="translate(3067,1467) rotate(-90)">[SII]<tspan font-size="18" font-weight="bold" dy="8">wing</tspan></text>
</g>
<g font-size="34" text-anchor="end">
<text x="2091.6" y="1148">10000</text><text x="2091.6" y="1338">5000</text><text x="2091.6" y="1529">0</text>
</g>
<g font-size="34" text-anchor="middle">
<text x="2181.9" y="1736">6300</text><text x="2379.9" y="1736">6400</text><text x="2577.9" y="1736">6500</text><text x="2775.9" y="1736">6600</text><text x="2973.9" y="1736">6700</text>
<text x="2597" y="1783">λ<tspan font-size="22" font-weight="bold" dy="9">r.f.</tspan><tspan dy="-9">[Å]</tspan></text>
</g>

<!-- BOTTOM LEFT -->
<path class="dl" d="M364.6,1798 V1912 M572,1798 V1917 M583.7,1798 V1917 M1058.5,1798 V1945 M1132.7,1798 V1948 M1191.3,1798 V1948 M1218,1798 V1948 M1604,1798 V1948"/>
<path class="blu" d="M291,2218.6 L363.5,2218.6 L366.3,2176 L369,2218.6 L571,2218.6 L573.7,2198 L576,2218.6 L582.5,2218.6 L585,2198 L587.5,2218.6 L1056,2218.6 L1059,2211 L1062,2218.6 L1187,2218.6 L1190,2214 L1193,2218.6 L1215.5,2218.6 L1218.5,2205 L1221.5,2218.6 L1621,2218.6"/>
<path class="res" d="M292,2172 L330,2175 L360,2176 L366,2170 L372,2180 L400,2178 L440,2176 L470,2172 L478,2155 L482,2170 L500,2176 L560,2174 L600,2175 L630,2160 L635,2147 L640,2170 L660,2178 L700,2177 L760,2175 L800,2176 L840,2170 L850,2180 L870,2172 L890,2178 L910,2176 L930,2180 L945,2188 L960,2178 L1000,2176 L1100,2175 L1200,2174 L1218,2166 L1222,2176 L1300,2176 L1400,2177 L1460,2178 L1480,2182 L1500,2176 L1560,2178 L1580,2186 L1600,2175 L1620,2172"/>
<path class="obj" style="stroke-width:6" d="M291,1963 L300,1962 L310,1967 L320,1969 L330,1966 L340,1970 L350,1966 L358,1955 L363,1940 L366,1913 L368,1950 L372,1972 L380,1962 L385,1955 L390,1972 L400,1965 L410,1975 L420,1970 L430,1978 L440,1968 L450,1972 L460,1966 L470,1965 L475,1958 L480,1948 L483,1965 L490,1968 L500,1966 L520,1966 L540,1965 L560,1963 L565,1950 L570,1935 L573.7,1918 L577,1945 L582,1950 L585,1942 L590,1965 L600,1970 L615,1968 L625,1960 L632,1947 L635.7,1938 L640,1960 L650,1968 L670,1969 L690,1967 L710,1964 L730,1968 L750,1966 L770,1965 L790,1967 L810,1966 L830,1966 L840,1960 L843,1990 L846,1962 L850,1972 L860,1966 L880,1970 L900,1970 L920,1974 L935,1976 L945,1985 L955,1972 L970,1965 L990,1966 L1010,1962 L1030,1962 L1050,1964 L1058,1958 L1065,1962 L1080,1961 L1100,1964 L1120,1962 L1132,1958 L1140,1964 L1160,1962 L1180,1961 L1200,1963 L1215,1956 L1220,1962 L1230,1968 L1250,1966 L1270,1970 L1290,1967 L1310,1963 L1330,1965 L1350,1966 L1370,1968 L1390,1968 L1410,1965 L1430,1967 L1450,1969 L1470,1968 L1490,1970 L1510,1966 L1530,1970 L1550,1968 L1570,1966 L1590,1968 L1610,1967 L1621,1966"/>
<path class="fit" d="M291,1960 L320,1963 L350,1962 L358,1952 L363,1938 L366,1920 L369,1950 L375,1965 L400,1966 L440,1968 L470,1965 L480,1960 L485,1965 L520,1963 L560,1960 L568,1945 L573.7,1925 L578,1945 L585,1948 L592,1962 L620,1966 L640,1965 L680,1966 L740,1965 L800,1963 L850,1964 L900,1968 L940,1970 L960,1966 L1000,1962 L1050,1960 L1100,1961 L1150,1960 L1200,1960 L1220,1962 L1260,1966 L1300,1964 L1350,1964 L1400,1965 L1450,1966 L1500,1966 L1550,1965 L1600,1964 L1621,1964"/>
<rect x="289.3" y="1797.7" width="1333.4" height="431.9" class="k" stroke-width="4"/>
<g stroke="#000" fill="none">
<line x1="295.3" y1="1804.6" x2="295.3" y2="2229.6" stroke-width="12" stroke-dasharray="3 6.99"/>
<line x1="1616.7" y1="1804.6" x2="1616.7" y2="2229.6" stroke-width="12" stroke-dasharray="3 6.99"/>
<line x1="302.3" y1="1874.5" x2="302.3" y2="2229.6" stroke-width="26" stroke-dasharray="3 96.9"/>
<line x1="1609.7" y1="1874.5" x2="1609.7" y2="2229.6" stroke-width="26" stroke-dasharray="3 96.9"/>
<line x1="324.2" y1="2227.1" x2="1622.7" y2="2227.1" stroke-width="5" stroke-dasharray="3 53.37"/>
<line x1="324.2" y1="1800.2" x2="1622.7" y2="1800.2" stroke-width="5" stroke-dasharray="3 53.37"/>
<line x1="436.9" y1="2224.6" x2="1622.7" y2="2224.6" stroke-width="10" stroke-dasharray="3 222.46"/>
<line x1="436.9" y1="1802.7" x2="1622.7" y2="1802.7" stroke-width="10" stroke-dasharray="3 222.46"/>
</g>
<g font-size="28">
<text transform="translate(389,1909) rotate(-90)">[ArIII]</text>
<text transform="translate(566,1909) rotate(-90)">[OII]</text>
<text transform="translate(609.4,1909) rotate(-90)">[OII]</text>
<text transform="translate(1052.2,1909) rotate(-90)" style="fill:#ff2020">[ArIII]</text>
<text transform="translate(1124.4,1909) rotate(-90)" style="fill:#ff2020">HeI</text>
<text transform="translate(1184,1909) rotate(-90)" style="fill:#ff2020">ArI</text>
<text transform="translate(1213.3,1909) rotate(-90)">[FeXI]</text>
<text transform="translate(1600.3,1909) rotate(-90)" style="fill:#ff2020">HeII</text>
</g>
<g font-size="34" text-anchor="end">
<text x="276.8" y="1888.5">300</text><text x="276.8" y="1988">200</text><text x="276.8" y="2087.8">100</text><text x="276.8" y="2188">0</text>
</g>
<g font-size="34" text-anchor="middle">
<text x="438.4" y="2284">7200</text><text x="663.9" y="2284">7400</text><text x="889.3" y="2284">7600</text><text x="1114.8" y="2284">7800</text><text x="1340.3" y="2284">8000</text><text x="1565.7" y="2284">8200</text>
<text x="955" y="2333">λ<tspan font-size="22" font-weight="bold" dy="9">r.f.</tspan><tspan dy="-9">[Å]</tspan></text>
<text transform="translate(179.5,2016) rotate(-90)" textLength="478" lengthAdjust="spacingAndGlyphs">flux[10<tspan font-size="22" dy="-14">−17</tspan><tspan dy="14">erg s</tspan><tspan font-size="22" dy="-14">−1</tspan><tspan dy="14">cm</tspan><tspan font-size="22" dy="-14">−2</tspan><tspan dy="14">Å</tspan><tspan font-size="22" dy="-14">−1</tspan><tspan dy="14">]</tspan></text>
</g>

<!-- BOTTOM RIGHT -->
<path class="dl" d="M1858.3,1798 V2100 M1903,1798 V2100 M1938.4,1798 V2100 M1980,1798 V2100 M2034,1798 V2100 M2103,1798 V2100 M2167.4,1798 V2100 M2193.5,1798 V2100 M2216.8,1798 V2100 M2315.5,1798 V2097 M2360,1798 V2040 M2488.6,1798 V2095 M2731.7,1798 V1910 M2742.8,1798 V2100"/>
<path class="blu" d="M1857,2218.7 L1978,2218.7 L1980,2215 L1982,2218.7 L2032,2218.7 L2034,2215 L2036,2218.7 L2101,2218.7 L2103,2214 L2105,2218.7 L2189,2218.7 L2191,2211 L2193,2218.7 L2313.5,2218.7 L2315.5,2208 L2317.5,2218.7 L2356.7,2218.7 L2359.2,2139 L2361.7,2218.7 L2486,2218.7 L2488.4,2205 L2490.8,2218.7 L2729,2218.7 L2731.7,2037 L2734.4,2218.7 L2741,2218.7 L2743,2204 L2745,2218.7 L3091,2218.7"/>
<path class="res" d="M1823,2175 L2350,2175 L2358,2170 L2362,2178 L2500,2176 L2520,2180 L2560,2178 L2620,2180 L2700,2177 L2728,2165 L2732,2180 L2740,2175 L2950,2175 L2955,2170 L2960,2176 L3091,2175"/>
<use href="#pbr" class="obj"/>
<use href="#pbr" class="fit"/>
<rect x="1821" y="1797.7" width="1272" height="431.9" class="k" stroke-width="4"/>
<g stroke="#000" fill="none">
<line x1="1828" y1="1810.4" x2="1828" y2="2229.6" stroke-width="14" stroke-dasharray="3 12.82"/>
<line x1="3086" y1="1810.4" x2="3086" y2="2229.6" stroke-width="14" stroke-dasharray="3 12.82"/>
<line x1="1836" y1="1857.9" x2="1836" y2="2229.6" stroke-width="30" stroke-dasharray="3 76.1"/>
<line x1="3078" y1="1857.9" x2="3078" y2="2229.6" stroke-width="30" stroke-dasharray="3 76.1"/>
<line x1="1859.7" y1="2227.1" x2="3093" y2="2227.1" stroke-width="5" stroke-dasharray="3 37.2"/>
<line x1="1859.7" y1="1800.2" x2="3093" y2="1800.2" stroke-width="5" stroke-dasharray="3 37.2"/>
<line x1="1819.5" y1="2224.6" x2="3093" y2="2224.6" stroke-width="10" stroke-dasharray="3 157.9"/>
<line x1="1819.5" y1="1802.7" x2="3093" y2="1802.7" stroke-width="10" stroke-dasharray="3 157.9"/>
</g>
<g font-size="28" letter-spacing="2">
<text transform="translate(1852.5,1909) rotate(-90)">OI</text>
<text transform="translate(1897,1909) rotate(-90)" style="fill:#ff2020">Pa16</text>
<text transform="translate(1934.5,1909) rotate(-90)">Pa15</text>
<text transform="translate(1976,1909) rotate(-90)">Pa14</text>
<text transform="translate(2029.4,1909) rotate(-90)">Pa13</text>
<text transform="translate(2097.4,1909) rotate(-90)">Pa12</text>
<text transform="translate(2162.6,1909) rotate(-90)" style="fill:#ff2020">[SIII]</text>
<text transform="translate(2190.5,1909) rotate(-90)">Pa11</text>
<text transform="translate(2216.6,1909) rotate(-90)">[FeII]</text>
<text transform="translate(2333,1909) rotate(-90)">Pa10</text>
<text transform="translate(2379.5,1909) rotate(-90)">[SIII]</text>
<text transform="translate(2483.8,1909) rotate(-90)">Pa9</text>
<text transform="translate(2727.7,1909) rotate(-90)">[SIII]</text>
<text transform="translate(2763,1909) rotate(-90)">Paeps</text>
</g>
<g font-size="34" text-anchor="end">
<text x="1807" y="1872">2000</text><text x="1807" y="1950.3">1500</text><text x="1807" y="2029.8">1000</text><text x="1807" y="2108.8">500</text><text x="1807" y="2188.3">0</text>
</g>
<g font-size="34" text-anchor="middle">
<text x="1821" y="2284">8400</text><text x="1981.9" y="2284">8600</text><text x="2142.8" y="2284">8800</text><text x="2303.7" y="2284">9000</text><text x="2464.6" y="2284">9200</text><text x="2625.5" y="2284">9400</text><text x="2786.4" y="2284">9600</text><text x="2947.3" y="2284">9800</text>
<text x="2455" y="2333">λ<tspan font-size="22" font-weight="bold" dy="9">r.f.</tspan><tspan dy="-9">[Å]</tspan></text>
</g>
</svg>
</body></html>
